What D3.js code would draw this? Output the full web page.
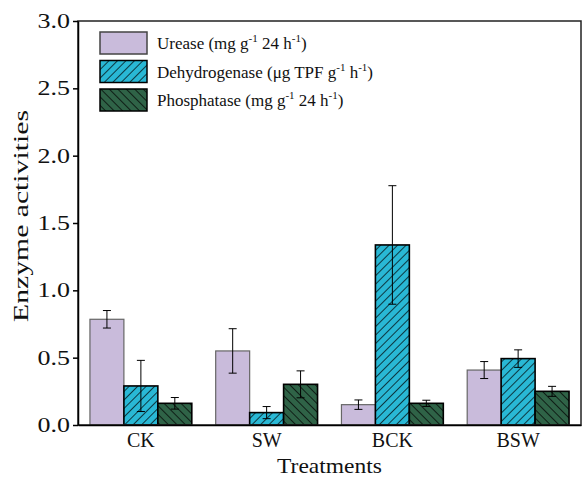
<!DOCTYPE html>
<html>
<head>
<meta charset="utf-8">
<script src="https://cdn.jsdelivr.net/npm/d3@7"></script>
<style>
  body { margin: 0; background: #fff; }
  svg, svg text { font-family: "Liberation Serif", "Times New Roman", serif; }
</style>
</head>
<body>
<div id="chart"></div>
<script>
const treatments = ['CK', 'SW', 'BCK', 'BSW'];
const ureaseMean = [0.785, 0.55, 0.151, 0.408];
const ureaseErr = [0.065, 0.165, 0.035, 0.063];
const dehydroMean = [0.29, 0.092, 1.337, 0.493];
const dehydroErr = [0.19, 0.045, 0.44, 0.065];
const phosMean = [0.161, 0.302, 0.161, 0.25];
const phosErr = [0.043, 0.10, 0.023, 0.037];
const yTicks = [0, 0.5, 1.0, 1.5, 2.0, 2.5, 3.0];

const series = [
    { key: 'urease', mean: ureaseMean, err: ureaseErr, fill: '#c9bbdb', stroke: '#666', pattern: null,
      label: ['Urease (mg g', '-1', ' 24 h', '-1', ')'] },
    { key: 'dehydro', mean: dehydroMean, err: dehydroErr, fill: '#29b8d5', stroke: '#000', pattern: 'fwd',
      label: ['Dehydrogenase (\u03bcg TPF g', '-1', ' h', '-1', ')'] },
    { key: 'phos', mean: phosMean, err: phosErr, fill: '#2f6347', stroke: '#000', pattern: 'back',
      label: ['Phosphatase (mg g', '-1', ' 24 h', '-1', ')'] }
];

const W = 582, H = 479;
const margin = { top: 21, right: 1, bottom: 54, left: 78 };
const width = W - margin.left - margin.right;
const height = H - margin.top - margin.bottom;

const svgRoot = d3.select('#chart').append('svg')
    .attr('width', W)
    .attr('height', H);

// hatch patterns
const defs = svgRoot.append('defs');
series.forEach(s => {
    if (!s.pattern) return;
    const p = defs.append('pattern')
        .attr('id', 'pat-' + s.key)
        .attr('patternUnits', 'userSpaceOnUse')
        .attr('width', 6)
        .attr('height', 6)
        .attr('patternTransform', s.pattern === 'fwd' ? 'rotate(45)' : 'rotate(-45)');
    p.append('rect').attr('width', 6).attr('height', 6).attr('fill', s.fill);
    p.append('line')
        .attr('x1', 0).attr('y1', 0).attr('x2', 0).attr('y2', 6)
        .attr('stroke', '#000').attr('stroke-width', 1.4);
});

const svg = svgRoot.append('g')
    .attr('transform', `translate(${margin.left},${margin.top})`);

const x = d3.scaleBand().domain(treatments).range([0, width]).paddingInner(0.19).paddingOuter(0.095);
const xs = d3.scaleBand().domain(series.map(s => s.key)).range([0, x.bandwidth()]);
const y = d3.scaleLinear().domain([0, 3]).range([height, 0]);

// bars
series.forEach(s => {
    const g = svg.append('g');
    g.selectAll('rect')
        .data(treatments)
        .enter().append('rect')
        .attr('x', d => x(d) + xs(s.key))
        .attr('y', (d, i) => y(s.mean[i]))
        .attr('width', xs.bandwidth())
        .attr('height', (d, i) => y(0) - y(s.mean[i]))
        .attr('fill', s.pattern ? `url(#pat-${s.key})` : s.fill)
        .attr('stroke', s.stroke)
        .attr('stroke-width', s.pattern ? 1.6 : 1.2);
});

// error bars
series.forEach(s => {
    const g = svg.append('g').attr('stroke', '#000').attr('stroke-width', 1);
    treatments.forEach((d, i) => {
        const cx = x(d) + xs(s.key) + xs.bandwidth() / 2;
        const top = y(s.mean[i] + s.err[i]);
        const bot = y(s.mean[i] - s.err[i]);
        g.append('line').attr('x1', cx).attr('x2', cx).attr('y1', top).attr('y2', bot);
        g.append('line').attr('x1', cx - 4).attr('x2', cx + 4).attr('y1', top).attr('y2', top);
        g.append('line').attr('x1', cx - 4).attr('x2', cx + 4).attr('y1', bot).attr('y2', bot);
    });
});

// frame
svg.append('rect')
    .attr('width', width).attr('height', height)
    .attr('fill', 'none').attr('stroke', '#222').attr('stroke-width', 1.5);

// axes
const yAxis = d3.axisLeft(y).tickValues(yTicks).tickFormat(d3.format('.1f')).tickSize(5).tickSizeOuter(0);
const yg = svg.append('g').call(yAxis).attr('font-family', null);
yg.select('.domain').attr('stroke-width', 1.5);
yg.selectAll('.tick line').attr('stroke-width', 1.5);
yg.selectAll('.tick text')
    .attr('font-size', 20).attr('fill', '#111')
    .attr('x', 0)
    .attr('transform', 'translate(-8,0) scale(1.3,1)');

const xAxis = d3.axisBottom(x).tickSize(0).tickSizeOuter(0);
const xg = svg.append('g').attr('transform', `translate(0,${height})`).call(xAxis).attr('font-family', null);
xg.select('.domain').attr('stroke-width', 1.5);
xg.selectAll('.tick text').attr('font-size', 20).attr('fill', '#111').attr('dy', '0.95em');

// axis titles
svgRoot.append('text')
    .attr('transform', `translate(${margin.left + width / 2},473) scale(1.12,1)`)
    .attr('text-anchor', 'middle')
    .attr('font-size', 21)
    .attr('fill', '#111')
    .text('Treatments');

svgRoot.append('text')
    .attr('transform', `translate(28,${margin.top + height / 2 - 7}) rotate(-90) scale(1.35,1)`)
    .attr('text-anchor', 'middle')
    .attr('font-size', 22)
    .attr('fill', '#111')
    .text('Enzyme activities');

// legend
const legend = svgRoot.append('g').attr('transform', 'translate(100,32)');
series.forEach((s, i) => {
    const row = legend.append('g').attr('transform', `translate(0,${i * 28.5})`);
    row.append('rect')
        .attr('width', 47).attr('height', 22)
        .attr('fill', s.pattern ? `url(#pat-${s.key})` : s.fill)
        .attr('stroke', s.key === 'urease' ? '#444' : '#000')
        .attr('stroke-width', 1.5);
    const t = row.append('text')
        .attr('x', 57).attr('y', 17)
        .attr('font-size', 17)
        .attr('fill', '#111');
    s.label.forEach((part, j) => {
        const ts = t.append('tspan').text(part);
        if (j % 2 === 1) ts.attr('font-size', 11).attr('dy', -7);
        else if (j > 0) ts.attr('dy', 7);
    });
});
</script>
</body>
</html>
